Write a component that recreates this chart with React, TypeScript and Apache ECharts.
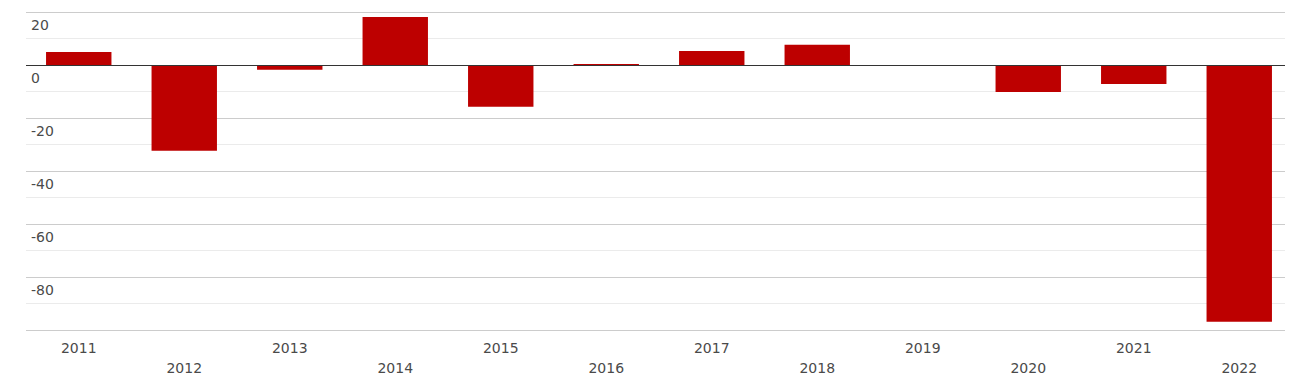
import React, { useEffect, useRef } from "react";
import * as echarts from "echarts";

const categories = ["2011", "2012", "2013", "2014", "2015", "2016", "2017", "2018", "2019", "2020", "2021", "2022"];
const values = [4.9, -32.4, -1.8, 18.1, -15.8, 0.4, 5.3, 7.6, 0, -10.2, -7.2, -96.9];

export default function App() {
  const ref = useRef<HTMLDivElement>(null);
  useEffect(() => {
    const chart = echarts.init(ref.current!, null, { renderer: "svg" });
    chart.setOption({
      animation: false,
      grid: { left: 26, right: 1, top: 12, bottom: 54, containLabel: false },
      xAxis: {
        type: "category",
        data: categories,
        position: "bottom",
        axisLine: { show: false },
        axisTick: { show: false },
        axisLabel: {
          interval: 0,
          color: "#4a4a4a",
          fontFamily: "DejaVu Sans",
          fontSize: 14,
          lineHeight: 20,
          margin: 8,
          formatter: (v: string, i: number) => (i % 2 ? "\n" + v : v),
        },
      },
      yAxis: {
        type: "value",
        min: -100,
        max: 20,
        interval: 20,
        axisLine: { show: false },
        axisTick: { show: false },
        axisLabel: {
          inside: true,
          margin: 5,
          color: "#4a4a4a",
          fontFamily: "DejaVu Sans",
          fontSize: 14,
          verticalAlign: "top",
          padding: [6, 0, 0, 0],
          formatter: (v: number) => (v === -100 ? "" : String(v)),
        },
        splitLine: { show: true, lineStyle: { color: "#cccccc", width: 1 } },
        minorTick: { show: false, splitNumber: 2 },
        minorSplitLine: { show: true, lineStyle: { color: "#ebebeb", width: 1 } },
      },
      series: [
        {
          type: "bar",
          data: values,
          barWidth: "62%",
          itemStyle: { color: "#bd0000" },
          markLine: {
            silent: true,
            symbol: "none",
            label: { show: false },
            lineStyle: { color: "#333", type: "solid", width: 1 },
            data: [{ yAxis: 0 }],
          },
        },
      ],
    });
    return () => chart.dispose();
  }, []);
  return <div ref={ref} style={{ width: 1293, height: 384, margin: -8 }} />;
}
